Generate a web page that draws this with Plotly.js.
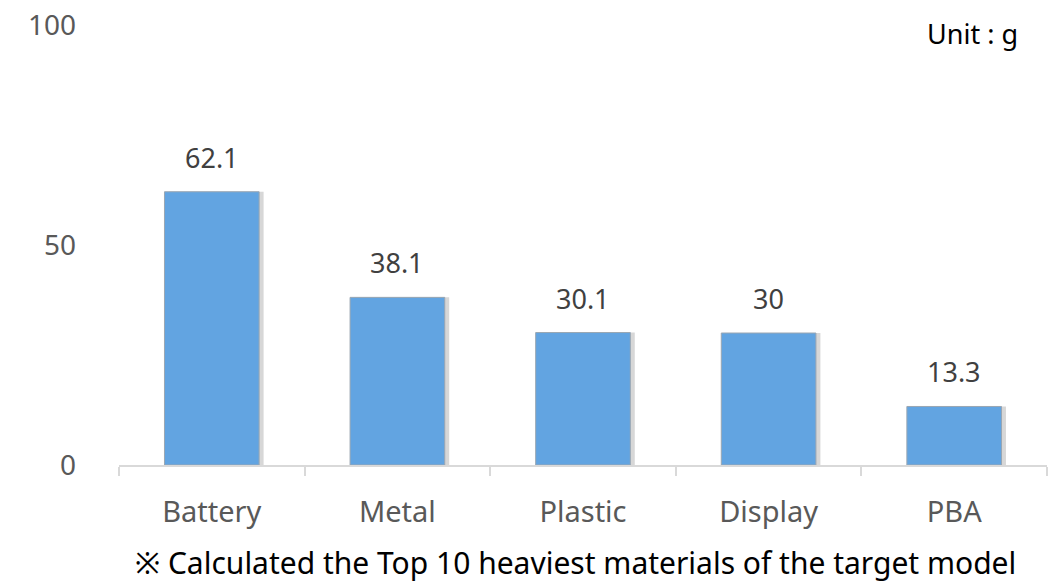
<!DOCTYPE html>
<html>
<head>
<meta charset="utf-8">
<script src="https://cdn.plot.ly/plotly-3.0.1.min.js"></script>
<style>html,body{margin:0;padding:0;background:#fff;}#chart{width:1061px;height:582px;}</style>
</head>
<body>
<div id="chart"></div>
<script>
const categories = ["Battery", "Metal", "Plastic", "Display", "PBA"];
const values = [62.1, 38.1, 30.1, 30, 13.3];
const valueLabels = ["62.1", "38.1", "30.1", "30", "13.3"];
const yTickVals = [0, 50, 100];
const yTickText = ["0", "50", "100"];
const unitText = "Unit : g";
const footnote = "※ Calculated the Top 10 heaviest materials of the target model";

const FONT = "'Noto Sans', 'Open Sans', sans-serif";
const BW = 0.51;

const shadow = {
  type: "bar", x: categories, y: values,
  width: BW, offset: -BW / 2 + 0.024,
  marker: { color: "rgba(110,110,110,0.28)", line: { width: 0 } },
  hoverinfo: "skip", showlegend: false
};
const bars = {
  type: "bar", x: categories, y: values,
  width: BW, offset: -BW / 2,
  marker: { color: "#62A4E1", line: { color: "#9aa6b2", width: 1 } },
  showlegend: false
};

const valueAnnotations = categories.map((c, i) => ({
  x: c, y: values[i], xref: "x", yref: "y", text: valueLabels[i],
  showarrow: false, yanchor: "bottom", yshift: 14,
  font: { family: FONT, size: 27, color: "#404040" }
}));

const layout = {
  width: 1061, height: 582,
  margin: { l: 119, r: 14, t: 25, b: 117 },
  paper_bgcolor: "#fff", plot_bgcolor: "#fff",
  barmode: "overlay",
  font: { family: FONT, color: "#595959" },
  xaxis: {
    type: "category", tickson: "boundaries", ticks: "outside",
    ticklen: 9, tickcolor: "#d9d9d9", tickwidth: 2,
    showline: true, linecolor: "#d9d9d9", linewidth: 2,
    showgrid: false, zeroline: false,
    ticklabelstandoff: 20,
    tickfont: { family: FONT, size: 29, color: "#595959" },
    range: [-0.5, 4.5]
  },
  yaxis: {
    range: [0, 100], tickvals: yTickVals, ticktext: yTickText,
    showgrid: false, zeroline: false, showline: false, ticks: "",
    ticklabelstandoff: 42,
    tickfont: { family: FONT, size: 28, color: "#595959" }
  },
  annotations: valueAnnotations.concat([
    { text: unitText, xref: "paper", yref: "paper", x: 1.0, y: 1.0, xanchor: "right", yanchor: "middle",
      xshift: -27, yshift: -8, showarrow: false, font: { family: FONT, size: 27, color: "#000" } },
    { text: footnote, xref: "paper", yref: "paper", x: 0, y: 0, xanchor: "left", yanchor: "middle",
      xshift: 14, yshift: -97, showarrow: false, font: { family: FONT, size: 30, color: "#000" } }
  ])
};

Plotly.newPlot("chart", [shadow, bars], layout, { displayModeBar: false, staticPlot: true });
</script>
</body>
</html>
